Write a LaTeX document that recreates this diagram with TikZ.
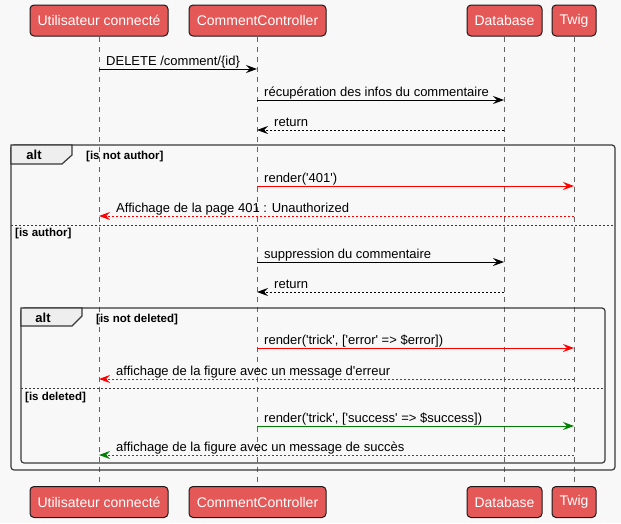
\documentclass[tikz,border=0pt]{standalone}
\usepackage{fontspec}
\setmainfont{Liberation Sans}
\usetikzlibrary{arrows.meta,positioning}

\definecolor{actorred}{RGB}{229,88,88}
\definecolor{bgcolor}{RGB}{248,248,248}
\definecolor{framegray}{RGB}{56,56,56}
\definecolor{tabgray}{RGB}{238,238,238}
\definecolor{lifegray}{RGB}{100,100,100}
\definecolor{errred}{RGB}{255,0,0}
\definecolor{okgreen}{RGB}{0,128,0}

\newcommand{\q}{\textquotesingle}

\tikzset{
  actor/.style={draw=black!90, fill=actorred, rounded corners=4pt, text=white,
    minimum height=31pt, inner sep=0pt, line width=1pt,
    font=\fontsize{14}{16}\selectfont},
  lifeline/.style={draw=lifegray, dash pattern=on 5pt off 5pt, line width=0.8pt},
  call/.style={-{Stealth[length=11pt,width=8pt,inset=4pt]}, line width=1pt},
  reply/.style={call, dash pattern=on 2pt off 2pt},
  msgtext/.style={anchor=base west, inner sep=0pt, font=\fontsize{13}{15}\selectfont},
  guard/.style={anchor=base west, inner sep=0pt, font=\bfseries\fontsize{11.5}{13}\selectfont},
  altlabel/.style={inner sep=0pt, font=\bfseries\fontsize{13}{15}\selectfont},
  altframe/.style={draw=framegray, line width=1.2pt, rounded corners=3pt},
  alttab/.style={draw=framegray, fill=tabgray, line width=1.2pt},
  separator/.style={draw=framegray, dash pattern=on 2pt off 2pt, line width=0.8pt},
}

\begin{document}
\begin{tikzpicture}[x=1pt,y=-1pt]

\useasboundingbox[fill=bgcolor] (0,0) rectangle (621,523);

% participants, top
\node[actor, minimum width=138pt] (userT) at (99,20.5) {Utilisateur connecté};
\node[actor, minimum width=137pt] (ctrlT) at (257.5,20.5) {CommentController};
\node[actor, minimum width=75pt] (dbT) at (504.5,20.5) {Database};
\node[actor, minimum width=44pt] (twigT) at (574,20.5) {Twig};

% participants, bottom
\node[actor, minimum width=138pt] (userB) at (99,502) {Utilisateur connecté};
\node[actor, minimum width=137pt] (ctrlB) at (257.5,502) {CommentController};
\node[actor, minimum width=75pt] (dbB) at (504.5,502) {Database};
\node[actor, minimum width=44pt] (twigB) at (574,502) {Twig};

% lifelines
\draw[lifeline] (userT) -- (userB);
\draw[lifeline] (ctrlT) -- (ctrlB);
\draw[lifeline] (dbT) -- (dbB);
\draw[lifeline] (twigT) -- (twigB);

% outer alt
\draw[altframe] (11,145) rectangle (615,470);
\draw[alttab] (11,145) -- (72,145) -- (72,155) -- (62,164) -- (11,164) -- cycle;
\node[altlabel] (alt1) at (34,155) {alt};
\node[guard] (g1) at (86,159) {[is not author]};
\draw[separator] (11,225) -- (615,225);
\node[guard] (g2) at (15,236) {[is author]};

% inner alt
\draw[altframe] (21,308) rectangle (605,463);
\draw[alttab] (21,308) -- (82,308) -- (82,316) -- (72,326) -- (21,326) -- cycle;
\node[altlabel] (alt2) at (43,318) {alt};
\node[guard] (g3) at (96,322) {[is not deleted]};
\draw[separator] (21,388) -- (605,388);
\node[guard] (g4) at (25,400) {[is deleted]};

% messages
\coordinate (m1a) at (99,69);   \coordinate (m1b) at (257,69);
\coordinate (m2a) at (257,100); \coordinate (m2b) at (504,100);
\coordinate (m3a) at (504,130); \coordinate (m3b) at (257,130);
\coordinate (m4a) at (257,186); \coordinate (m4b) at (574,186);
\coordinate (m5a) at (574,216); \coordinate (m5b) at (99,216);
\coordinate (m6a) at (257,262); \coordinate (m6b) at (504,262);
\coordinate (m7a) at (504,292); \coordinate (m7b) at (257,292);
\coordinate (m8a) at (257,348); \coordinate (m8b) at (574,348);
\coordinate (m9a) at (574,379); \coordinate (m9b) at (99,379);
\coordinate (m10a) at (257,426); \coordinate (m10b) at (574,426);
\coordinate (m11a) at (574,455); \coordinate (m11b) at (99,455);

\draw[call] (m1a) -- (m1b);
\node[msgtext] (t1) at (106,65) {DELETE /comment/\{id\}};

\draw[call] (m2a) -- (m2b);
\node[msgtext] (t2) at (264,96) {récupération des infos du commentaire};

\draw[reply] (m3a) -- (m3b);
\node[msgtext] (t3) at (274,126) {return};

\draw[call, errred] (m4a) -- (m4b);
\node[msgtext] (t4) at (264,182) {render(\q401\q)};

\draw[reply, errred] (m5a) -- (m5b);
\node[msgtext] (t5) at (116,212) {Affichage de la page 401 : Unauthorized};

\draw[call] (m6a) -- (m6b);
\node[msgtext] (t6) at (264,258) {suppression du commentaire};

\draw[reply] (m7a) -- (m7b);
\node[msgtext] (t7) at (274,288) {return};

\draw[call, errred] (m8a) -- (m8b);
\node[msgtext] (t8) at (264,344) {render(\q trick\q, [\q error\q\ => \$error])};

\draw[reply, errred] (m9a) -- (m9b);
\node[msgtext] (t9) at (116,375) {affichage de la figure avec un message d\q erreur};

\draw[call, okgreen] (m10a) -- (m10b);
\node[msgtext] (t10) at (264,422) {render(\q trick\q, [\q success\q\ => \$success])};

\draw[reply, okgreen] (m11a) -- (m11b);
\node[msgtext] (t11) at (116,451) {affichage de la figure avec un message de succès};

\end{tikzpicture}
\end{document}
